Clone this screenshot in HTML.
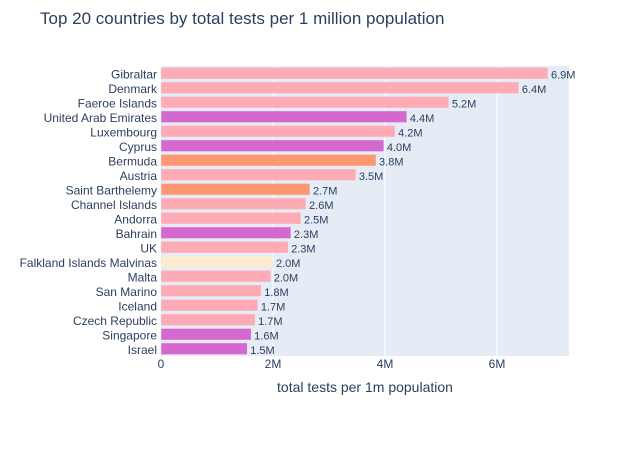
<!DOCTYPE html>
<html><head><meta charset="utf-8">
<style>
body{margin:0;background:#fff;font-family:"Liberation Sans",Arial,sans-serif;}
svg text{font-family:"Liberation Sans",Arial,sans-serif;}
</style></head>
<body>
<svg id="chart" width="637" height="445" xmlns="http://www.w3.org/2000/svg">
<text x="40" y="24" font-size="17" fill="#2a3f5f">Top 20 countries by total tests per 1 million population</text>
<rect x="161" y="66" width="408" height="290" fill="#e5ecf6"/>
<g id="grid"></g><g id="bars"></g><g id="labels"></g><g id="ticks"></g>
<text x="365" y="392" font-size="14" fill="#2a3f5f" text-anchor="middle">total tests per 1m population</text>
</svg>
<script>
const countries=["Gibraltar","Denmark","Faeroe Islands","United Arab Emirates","Luxembourg","Cyprus","Bermuda","Austria","Saint Barthelemy","Channel Islands","Andorra","Bahrain","UK","Falkland Islands Malvinas","Malta","San Marino","Iceland","Czech Republic","Singapore","Israel"];
const values=[6.91,6.39,5.14,4.39,4.18,3.98,3.84,3.48,2.66,2.59,2.5,2.32,2.27,2.0,1.96,1.79,1.73,1.68,1.61,1.54];
const valueLabels=["6.9M","6.4M","5.2M","4.4M","4.2M","4.0M","3.8M","3.5M","2.7M","2.6M","2.5M","2.3M","2.3M","2.0M","2.0M","1.8M","1.7M","1.7M","1.6M","1.5M"];
const colorGroups=["p","p","p","o","p","o","s","p","s","p","p","o","p","c","p","p","p","p","o","o"];
const xTicks=[0,2,4,6];
const xTickLabels=["0","2M","4M","6M"];
const palette={p:"#ffabb5",o:"#d468ce",s:"#ff9672",c:"#ffebd0"};
const NS="http://www.w3.org/2000/svg";
const x0=161,pxPerM=56,yTop=66,band=290/countries.length;
const X=v=>x0+v*pxPerM;
const Y=i=>yTop+i*band;
function mk(tag,attrs,parent){const e=document.createElementNS(NS,tag);for(const k in attrs)e.setAttribute(k,attrs[k]);document.getElementById(parent).appendChild(e);return e;}
xTicks.forEach((t,i)=>{
  if(t>0){const g=mk("line",{x1:X(t),x2:X(t),y1:66,y2:356,stroke:"#fff","stroke-width":1},"grid");
  
  }
  const tx=mk("text",{x:X(t),y:368,"font-size":12,fill:"#2a3f5f","text-anchor":"middle"},"ticks");
  tx.textContent=xTickLabels[i];
  
  
});
countries.forEach((c,i)=>{
  const y=Y(i),h=band*0.8,by=y+band*0.1;
  const r=mk("rect",{x:x0,y:by,width:X(values[i])-x0,height:h,fill:palette[colorGroups[i]],stroke:"#e5ecf6","stroke-width":0.5},"bars");
  
  
  const l=mk("text",{x:157,y:y+band/2+5,"font-size":12,fill:"#2a3f5f","text-anchor":"end"},"ticks");
  l.textContent=c;
  
  
  const v=mk("text",{x:X(values[i])+3,y:y+band/2+5,"font-size":11,fill:"#2a3f5f"},"labels");
  v.textContent=valueLabels[i];
  
  
});
</script>
</body></html>
